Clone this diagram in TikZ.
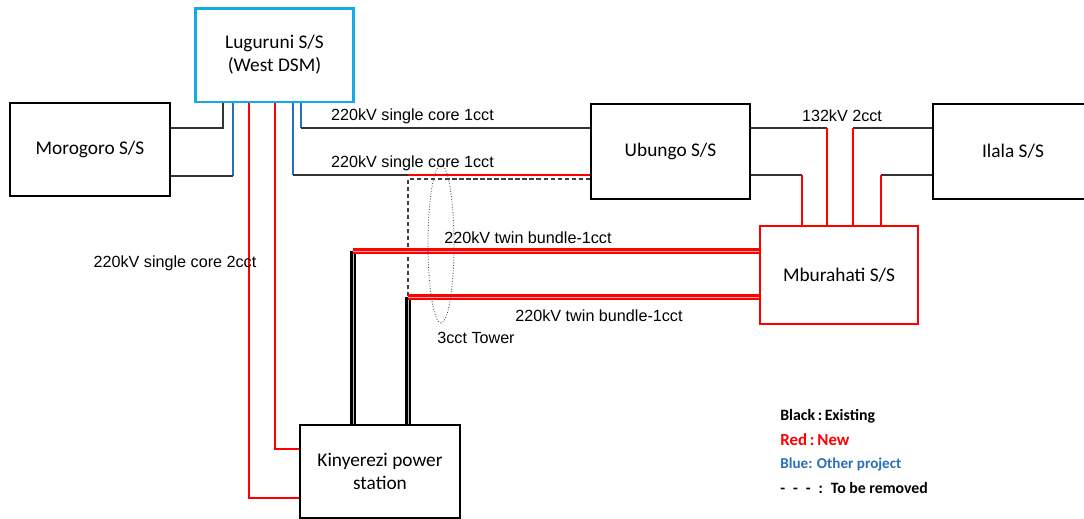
\documentclass[tikz,border=0pt]{standalone}
\usepackage{fontspec}
\setmainfont{Carlito}
\newfontfamily\arialfont{Liberation Sans}
\usetikzlibrary{positioning}
\usetikzlibrary{calc}

\definecolor{lugblue}{RGB}{20,170,230}
\definecolor{otherblue}{RGB}{40,110,190}
\definecolor{newred}{RGB}{255,0,0}

\tikzset{
    station/.style = {draw, line width=1.1pt, inner sep=0pt, align=center, font=\fontsize{11}{13}\selectfont},
    exist/.style = {draw=black!80, line width=0.6pt},
    other/.style = {draw=otherblue, line width=0.6pt},
    new/.style = {draw=newred, line width=0.6pt},
    removed/.style = {draw=black!75, line width=0.6pt, dash pattern=on 2.5pt off 1.5pt},
    twinnew/.style = {draw=newred, line width=1.3pt, double=red!35, double distance=0.5pt},
    twinold/.style = {draw=black, line width=1.3pt, double=gray!50, double distance=0.5pt},
    linelbl/.style = {font=\arialfont\fontsize{9.2}{11}\selectfont, inner sep=0pt},
    legend/.style = {anchor=west, inner sep=0pt, font=\bfseries\fontsize{9}{11}\selectfont}
}

\begin{document}
\begin{tikzpicture}[x=0.02cm, y=-0.02cm]
    \clip (0,0) rectangle (1084,518);

    % stations
    \node[station, draw=lugblue, line width=1.7pt, minimum width=3.18cm, minimum height=1.88cm] (lug) at (274.5,55) {Luguruni S/S\\(West DSM)};
    \node[station, minimum width=3.2cm, minimum height=1.86cm] (moro) at (90,149.5) {Morogoro S/S};
    \node[station, minimum width=3.18cm, minimum height=1.9cm] (ubu) at (670.5,151.5) {Ubungo S/S};
    \node[station, minimum width=3.2cm, minimum height=1.9cm] (ilala) at (1013,151.5) {Ilala S/S};
    \node[station, draw=newred, minimum width=3.16cm, minimum height=1.96cm] (mbu) at (839,275) {Mburahati S/S};
    \node[station, minimum width=3.2cm, minimum height=1.86cm] (kin) at (380,471.5) {Kinyerezi power\\station};

    % Morogoro -- Luguruni
    \draw[exist] (moro.east |- 0,128) -| (lug.south -| 223,0);
    \draw[other] (lug.south -| 233,0) -- (233,176);
    \draw[exist] (233,176) -- (moro.east |- 0,176);

    % Luguruni -- Ubungo
    \draw[other] (lug.south -| 301,0) -- (301,128);
    \draw[exist] (301,128) -- (ubu.west |- 0,128);
    \draw[other] (lug.south -| 293,0) -- (293,175);
    \draw[exist] (293,175) -- (408,175);
    \draw[new] (408,175) -- (ubu.west |- 0,175);
    \draw[removed] (ubu.west |- 0,179) -| (408,296);

    % Luguruni -- Kinyerezi
    \draw[new] (lug.south -| 249,0) |- (kin.west |- 0,498);
    \draw[new] (lug.south -| 275,0) |- (kin.west |- 0,449);

    % Kinyerezi -- Mburahati
    \draw[twinold] (kin.north -| 353,0) -- (353,251);
    \draw[twinold] (kin.north -| 408,0) -- (408,297);
    \draw[twinnew] (353,251) -- (mbu.west |- 0,251);
    \draw[twinnew] (408,297) -- (mbu.west |- 0,297);

    % Ubungo / Ilala -- Mburahati
    \draw[exist] (ubu.east |- 0,128) -- (827,128);
    \draw[new] (827,128) -- (mbu.north -| 827,0);
    \draw[exist] (ubu.east |- 0,175) -- (802,175);
    \draw[new] (802,175) -- (mbu.north -| 802,0);
    \draw[exist] (ilala.west |- 0,128) -- (853,128);
    \draw[new] (853,128) -- (mbu.north -| 853,0);
    \draw[exist] (ilala.west |- 0,175) -- (881,175);
    \draw[new] (881,175) -- (mbu.north -| 881,0);

    % tower
    \draw[black!70, line width=0.5pt, densely dotted] (441,244) ellipse [x radius=13, y radius=79];

    % labels
    \node[linelbl] (l1) at (412.5,116) {220kV single core 1cct};
    \node[linelbl] (l2) at (412.5,163) {220kV single core 1cct};
    \node[linelbl] (l3) at (842,116) {132kV 2cct};
    \node[linelbl] (l4) at (528,238) {220kV twin bundle-1cct};
    \node[linelbl] (l5) at (599,316) {220kV twin bundle-1cct};
    \node[linelbl] (l6) at (476,338) {3cct Tower};
    \node[linelbl] (l7) at (175,263) {220kV single core 2cct};

    % legend
    \node[legend] (k1) at (780,416) {Black\,:\,Existing};
    \node[legend, text=newred, font=\bfseries\fontsize{9.6}{11}\selectfont] (k2) at (780,440) {Red\,:\,New};
    \node[legend, text=otherblue, font=\bfseries\fontsize{8.6}{10}\selectfont] (k3) at (780,464) {Blue: Other project};
    \node[legend] (k4) at (780,488) {-\enspace-\enspace-\enspace:\enspace To be removed};
\end{tikzpicture}
\end{document}
